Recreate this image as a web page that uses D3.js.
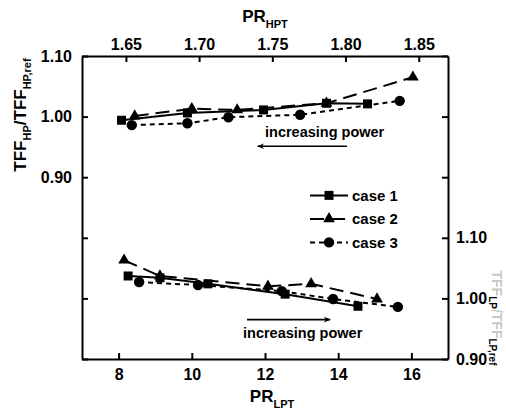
<!DOCTYPE html>
<html>
<head>
<meta charset="utf-8">
<script src="https://cdn.jsdelivr.net/npm/d3@7"></script>
<style>
	body { margin: 0; background: #fff; }
	svg text { font-family: "Liberation Sans", Arial, sans-serif; font-weight: bold; fill: #000; }
</style>
</head>
<body>
<div id="wrapper"></div>
<script>
// data
// top group: PR_HPT (top axis) vs TFF_HP/TFF_HP,ref (left axis)
const hpCase1X = [1.647, 1.692, 1.744, 1.787, 1.815];
const hpCase1Y = [0.994, 1.006, 1.011, 1.022, 1.021];
const hpCase2X = [1.656, 1.695, 1.726, 1.787, 1.846];
const hpCase2Y = [1.001, 1.013, 1.011, 1.022, 1.065];
const hpCase3X = [1.654, 1.692, 1.720, 1.769, 1.837];
const hpCase3Y = [0.986, 0.989, 0.999, 1.003, 1.026];

// bottom group: PR_LPT (bottom axis) vs TFF_LP/TFF_LP,ref (right axis)
const lpCase1X = [8.26, 9.13, 10.44, 12.55, 14.54];
const lpCase1Y = [1.037, 1.034, 1.024, 1.007, 0.987];
const lpCase2X = [8.15, 9.13, 12.08, 13.26, 15.06];
const lpCase2Y = [1.063, 1.037, 1.020, 1.024, 0.999];
const lpCase3X = [8.56, 10.17, 12.46, 13.86, 15.63];
const lpCase3Y = [1.027, 1.022, 1.012, 0.999, 0.986];

const caseNames = ["case 1", "case 2", "case 3"];
const topTicks = [1.65, 1.70, 1.75, 1.80, 1.85];
const bottomTicks = [8, 10, 12, 14, 16];
const leftTicks = [0.6, 0.7, 0.8, 0.9, 1.0, 1.1];
const leftLabels = ["", "", "", "0.90", "1.00", "1.10"];
const rightTicks = [0.9, 1.0, 1.1, 1.2, 1.3, 1.4];
const rightLabels = ["0.90", "1.00", "1.10", "", "", ""];

function drawChart(){

	// dimensions
	let dimensions = {
		width: 506,
		height: 413,
		margin: { top: 56, right: 58, bottom: 54, left: 82 }
	};
	dimensions.boundedWidth = dimensions.width - dimensions.margin.left - dimensions.margin.right;
	dimensions.boundedHeight = dimensions.height - dimensions.margin.top - dimensions.margin.bottom;

	const wrapper = d3.select("#wrapper")
		.append("svg")
		.attr("width", dimensions.width)
		.attr("height", dimensions.height);

	const defs = wrapper.append("defs");
	defs.append("marker")
		.attr("id", "arrow")
		.attr("viewBox", "0 0 10 10")
		.attr("refX", 9).attr("refY", 5)
		.attr("markerWidth", 9).attr("markerHeight", 7)
		.attr("markerUnits", "userSpaceOnUse")
		.attr("orient", "auto")
		.append("path")
		.attr("d", "M0,1 L10,5 L0,9 L3,5 Z")
		.attr("fill", "#000");

	const bounds = wrapper.append("g")
		.attr("transform", `translate(${dimensions.margin.left},${dimensions.margin.top})`);

	// scales
	const xHP = d3.scaleLinear().domain([1.62, 1.87]).range([0, dimensions.boundedWidth]);
	const xLP = d3.scaleLinear().domain([7, 17]).range([0, dimensions.boundedWidth]);
	const yHP = d3.scaleLinear().domain([0.6, 1.1]).range([dimensions.boundedHeight, 0]);
	const yLP = d3.scaleLinear().domain([0.9, 1.4]).range([dimensions.boundedHeight, 0]);

	// axes (ticks point inward)
	const styleAxis = g => {
		g.select(".domain").attr("stroke", "#000").attr("stroke-width", 2);
		g.selectAll(".tick line").attr("stroke", "#000").attr("stroke-width", 2);
		g.selectAll(".tick text").style("font-size", "16px");
	};

	bounds.append("g")
		.call(d3.axisTop(xHP).tickValues(topTicks).tickFormat(d3.format(".2f"))
			.tickSize(-6).tickSizeOuter(0).tickPadding(6))
		.call(styleAxis);

	bounds.append("g")
		.attr("transform", `translate(0,${dimensions.boundedHeight})`)
		.call(d3.axisBottom(xLP).tickValues(bottomTicks)
			.tickSize(-6).tickSizeOuter(0).tickPadding(10))
		.call(styleAxis);

	bounds.append("g")
		.call(d3.axisLeft(yHP).tickValues(leftTicks).tickFormat((d, i) => leftLabels[i])
			.tickSize(-6).tickSizeOuter(0).tickPadding(10))
		.call(styleAxis);

	bounds.append("g")
		.attr("transform", `translate(${dimensions.boundedWidth},0)`)
		.call(d3.axisRight(yLP).tickValues(rightTicks).tickFormat((d, i) => rightLabels[i])
			.tickSize(-6).tickSizeOuter(0).tickPadding(8))
		.call(styleAxis);

	// axis titles
	const topTitle = wrapper.append("text")
		.attr("x", dimensions.margin.left + dimensions.boundedWidth / 2)
		.attr("y", 22)
		.attr("text-anchor", "middle")
		.style("font-size", "17px");
	topTitle.append("tspan").text("PR");
	topTitle.append("tspan").attr("dy", 6).style("font-size", "11px").text("HPT");

	const bottomTitle = wrapper.append("text")
		.attr("x", dimensions.margin.left + dimensions.boundedWidth / 2 + 7)
		.attr("y", 402)
		.attr("text-anchor", "middle")
		.style("font-size", "17px");
	bottomTitle.append("tspan").text("PR");
	bottomTitle.append("tspan").attr("dy", 6).style("font-size", "11px").text("LPT");

	const leftTitle = wrapper.append("text")
		.attr("transform", "translate(26,115) rotate(-90)")
		.attr("text-anchor", "middle")
		.style("font-size", "17px");
	leftTitle.append("tspan").text("TFF");
	leftTitle.append("tspan").attr("dy", 5).style("font-size", "11px").text("HP");
	leftTitle.append("tspan").attr("dy", -5).text("/TFF");
	leftTitle.append("tspan").attr("dy", 5).style("font-size", "11px").text("HP,ref");

	// right title is faded in the scan: only the subscripts print solid
	const rightTitle = wrapper.append("text")
		.attr("transform", "translate(492,318) rotate(90)")
		.attr("text-anchor", "middle")
		.style("font-size", "14px");
	rightTitle.append("tspan").style("fill", "#c8c8c8").text("TFF");
	rightTitle.append("tspan").attr("dy", 3).style("font-size", "10px").text("LP");
	rightTitle.append("tspan").attr("dy", -3).style("fill", "#c8c8c8").text("/TFF");
	rightTitle.append("tspan").attr("dy", 3).style("font-size", "10px").text("LP,ref");

	// series
	const series = [
		{ x: hpCase1X, y: hpCase1Y, xs: xHP, ys: yHP, c: 0 },
		{ x: hpCase2X, y: hpCase2Y, xs: xHP, ys: yHP, c: 1 },
		{ x: hpCase3X, y: hpCase3Y, xs: xHP, ys: yHP, c: 2 },
		{ x: lpCase1X, y: lpCase1Y, xs: xLP, ys: yLP, c: 0 },
		{ x: lpCase2X, y: lpCase2Y, xs: xLP, ys: yLP, c: 1 },
		{ x: lpCase3X, y: lpCase3Y, xs: xLP, ys: yLP, c: 2 }
	];
	const dashes = [null, "14,7", "5,4"];
	const symbols = [
		d3.symbol().type(d3.symbolSquare).size(81),
		d3.symbol().type(d3.symbolTriangle).size(60),
		d3.symbol().type(d3.symbolCircle).size(85)
	];

	const lineGroup = bounds.append("g").attr("class", "lines");
	const dotGroup = bounds.append("g").attr("class", "dots");

	series.forEach(s => {
		const pts = s.x.map((v, i) => [s.xs(v), s.ys(s.y[i])]);
		lineGroup.append("path")
			.attr("d", d3.line()(pts))
			.attr("fill", "none")
			.attr("stroke", "#000")
			.attr("stroke-width", 2)
			.attr("stroke-dasharray", dashes[s.c]);
		dotGroup.selectAll(null)
			.data(pts)
			.enter()
			.append("path")
			.attr("d", symbols[s.c])
			.attr("transform", d => `translate(${d[0]},${d[1]})`)
			.attr("fill", "#000");
	});

	// annotations
	bounds.append("text")
		.attr("x", xHP(1.745))
		.attr("y", yHP(0.966))
		.style("font-size", "14.5px")
		.text("increasing power");
	bounds.append("line")
		.attr("x1", xHP(1.801)).attr("y1", yHP(0.951))
		.attr("x2", xHP(1.740)).attr("y2", yHP(0.951))
		.attr("stroke", "#000").attr("stroke-width", 1.6)
		.attr("marker-end", "url(#arrow)");

	bounds.append("text")
		.attr("x", xLP(11.40))
		.attr("y", yLP(0.934))
		.style("font-size", "14.5px")
		.text("increasing power");
	bounds.append("line")
		.attr("x1", xLP(11.51)).attr("y1", yLP(0.965))
		.attr("x2", xLP(13.78)).attr("y2", yLP(0.965))
		.attr("stroke", "#000").attr("stroke-width", 1.6)
		.attr("marker-end", "url(#arrow)");

	// legend
	const legend = bounds.append("g")
		.attr("transform", `translate(${xLP(13.23)},${yHP(0.870)})`);
	caseNames.forEach((name, i) => {
		const row = legend.append("g").attr("transform", `translate(0,${i * 23.5})`);
		row.append("line")
			.attr("x1", 0).attr("x2", 38)
			.attr("stroke", "#000").attr("stroke-width", 2)
			.attr("stroke-dasharray", dashes[i]);
		row.append("path")
			.attr("d", symbols[i])
			.attr("transform", "translate(19,0)")
			.attr("fill", "#000");
		row.append("text")
			.attr("x", 42)
			.attr("dy", "0.35em")
			.style("font-size", "15px")
			.text(name);
	});
}

drawChart();
</script>
</body>
</html>
